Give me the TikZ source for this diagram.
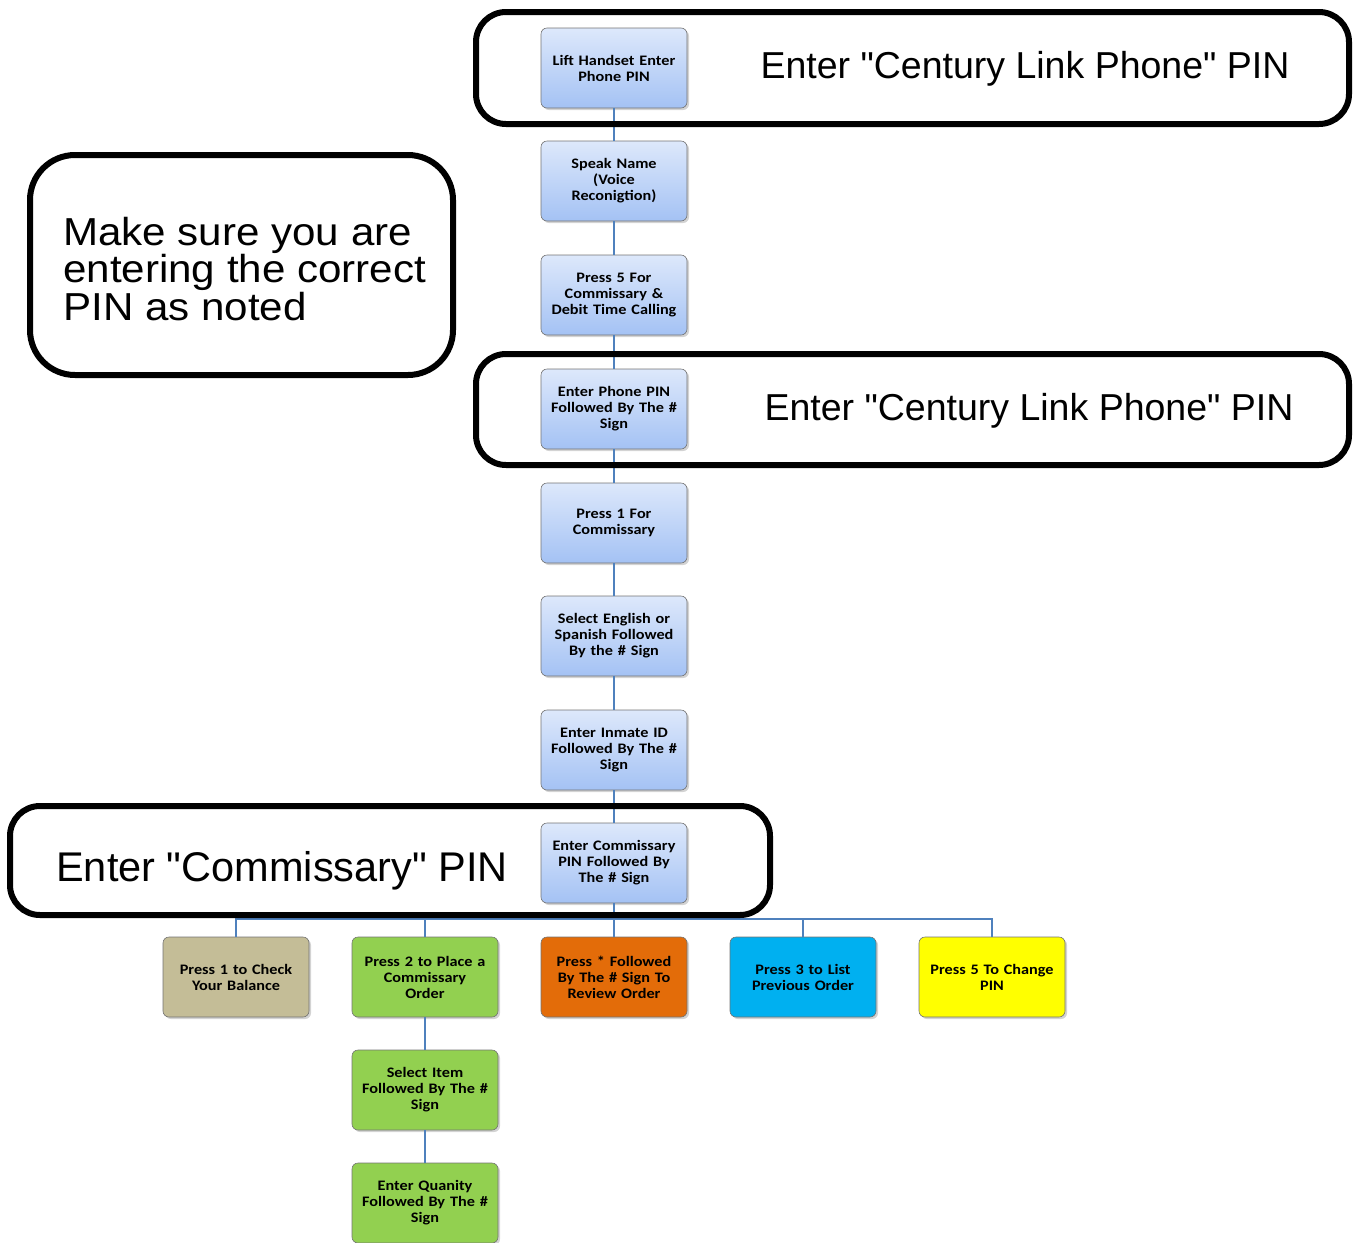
\documentclass[tikz,border=0pt]{standalone}
\usepackage{fontspec}
\setmainfont{Liberation Sans}[Ligatures=TeXOff]
\newfontfamily\widefont{Liberation Sans}[Ligatures=TeXOff,FakeStretch=1.08]
\newfontfamily\boxfont{Carlito}[FakeStretch=1.12]
\usetikzlibrary{shadows}
\definecolor{lnk}{HTML}{4F81BD}
\definecolor{btop}{HTML}{DDE8FB}
\definecolor{bbot}{HTML}{A4C2F4}
\definecolor{ctan}{HTML}{C4BD97}
\definecolor{cgreen}{HTML}{92D050}
\definecolor{corange}{HTML}{E36C09}
\definecolor{cblue}{HTML}{00B0F0}
\definecolor{cyellow}{HTML}{FFFF00}
\begin{document}
\begin{tikzpicture}[x=1pt,y=-1pt,
  stepbox/.style={draw=black!55, line width=0.6pt, rounded corners=6pt,
    minimum width=146pt, minimum height=80pt, text width=144pt, align=center,
    inner sep=0pt, font=\boxfont\bfseries\fontsize{14.5}{16}\selectfont,
    drop shadow={shadow xshift=2pt, shadow yshift=-2pt, opacity=0.35}},
  bluebox/.style={stepbox, top color=btop, bottom color=bbot},
  colbox/.style={stepbox, fill=#1},
  link/.style={draw=lnk, line width=1.8pt},
  frame/.style={draw=black, line width=6pt, rounded corners=#1, fill=none, inner sep=0pt},
  callout/.style={font=\fontsize{37.5}{40}\selectfont, inner sep=0pt}
]
\useasboundingbox (0,0) rectangle (1353,1243);

% main column
\node[bluebox] (b1) at (614,68)  {Lift Handset Enter\\Phone PIN};
\node[bluebox] (b2) at (614,181) {Speak Name\\(Voice\\Reconigtion)};
\node[bluebox] (b3) at (614,295) {Press 5 For\\Commissary \&\\Debit Time Calling};
\node[bluebox] (b4) at (614,409) {Enter Phone PIN\\Followed By The \#\\Sign};
\node[bluebox] (b5) at (614,523) {Press 1 For\\Commissary};
\node[bluebox] (b6) at (614,636) {Select English or\\Spanish Followed\\By the \# Sign};
\node[bluebox] (b7) at (614,750) {Enter Inmate ID\\Followed By The \#\\Sign};
\node[bluebox] (b8) at (614,863) {Enter Commissary\\PIN Followed By\\The \# Sign};

% bottom row
\node[colbox=ctan]    (c1) at (236,977) {Press 1 to Check\\Your Balance};
\node[colbox=cgreen]  (c2) at (425,977) {Press 2 to Place a\\Commissary\\Order};
\node[colbox=corange] (c3) at (614,977) {Press * Followed\\By The \# Sign To\\Review Order};
\node[colbox=cblue]   (c4) at (803,977) {Press 3 to List\\Previous Order};
\node[colbox=cyellow] (c5) at (992,977) {Press 5 To Change\\PIN};

\node[colbox=cgreen]  (g1) at (425,1090) {Select Item\\Followed By The \#\\Sign};
\node[colbox=cgreen]  (g2) at (425,1203) {Enter Quanity\\Followed By The \#\\Sign};

% connectors
\path[link] (b1) -- (b2);
\path[link] (b2) -- (b3);
\path[link] (b3) -- (b4);
\path[link] (b4) -- (b5);
\path[link] (b5) -- (b6);
\path[link] (b6) -- (b7);
\path[link] (b7) -- (b8);
\coordinate (hb) at (614,919);
\foreach \c in {c1,c2,c3,c4,c5}{
  \path[link] (b8.south) -- (b8.south |- hb) -| (\c.north);
}
\path[link] (c2) -- (g1);
\path[link] (g1) -- (g2);

% callout frames
\node[frame=30pt, minimum width=873pt, minimum height=112pt] (f1) at (912.5,68) {};
\node[callout] (t1) at (1025,69) {Enter "Century Link Phone" PIN};
\node[frame=30pt, minimum width=873pt, minimum height=111pt] (f2) at (912.5,409.5) {};
\node[callout] (t2) at (1029,411) {Enter "Century Link Phone" PIN};
\node[frame=45pt, minimum width=423pt, minimum height=220pt] (f3) at (241.5,265) {};
\node[callout, anchor=west, align=left, font=\widefont\fontsize{39}{35}\selectfont] (t3) at (63,269) {Make sure you are\\entering the correct\\PIN as noted};
\node[frame=30pt, minimum width=760pt, minimum height=109pt] (f4) at (390,860.5) {};
\node[callout, font=\fontsize{41.5}{43}\selectfont] (t4) at (282,871) {Enter "Commissary" PIN};
\end{tikzpicture}
\end{document}
